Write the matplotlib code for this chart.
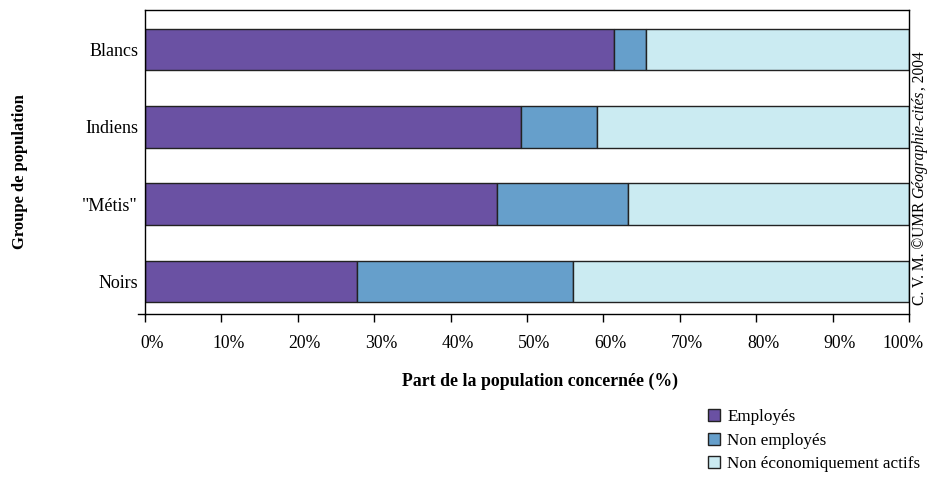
import matplotlib
matplotlib.use("Agg")
import matplotlib.pyplot as plt
import matplotlib.transforms as mtransforms
import numpy as np

# données (en %)
groupes = ["Blancs", "Indiens", "\"Métis\"", "Noirs"]
employes = [61.4, 49.2, 46.1, 27.8]
non_employes = [4.2, 10.0, 17.1, 28.2]
non_actifs = [34.4, 40.8, 36.8, 44.0]
series = ["Employés", "Non employés", "Non économiquement actifs"]
couleurs = ["#6a51a3", "#669fcb", "#cbebf2"]
ticks_x = [0, 10, 20, 30, 40, 50, 60, 70, 80, 90, 100]

plt.rcParams['font.family'] = ['Liberation Serif', 'DejaVu Serif']

fig = plt.figure(figsize=(9.27, 4.78), dpi=100)
ax = fig.add_axes([145/927, 1 - 314/478, 764/927, 304/478])

y = np.arange(len(groupes))
gauche = np.zeros(len(groupes))
for vals, nom, c in zip([employes, non_employes, non_actifs], series, couleurs):
    ax.barh(y, vals, left=gauche, height=0.54, color=c, edgecolor="#222222",
            linewidth=1, label=nom)
    gauche = gauche + np.array(vals)

ax.set_xlim(0, 100)
ax.set_ylim(3.42, -0.51)
ax.set_yticks(y)
ax.set_yticklabels(groupes, fontsize=13)
ax.tick_params(axis='y', length=0, pad=5)
ax.set_xticks(ticks_x)
ax.set_xticklabels([f"{t}%" for t in ticks_x], fontsize=12.7)
ax.tick_params(axis='x', length=6, width=1, direction='out', pad=9)

# petit tick en bas de l'axe y
ax.plot([-0.9, 0], [3.42, 3.42], color="black", lw=1, clip_on=False)

# décalage des étiquettes x comme sur l'original
for i, lab in enumerate(ax.get_xticklabels()):
    dx = -6 if i == len(ticks_x) - 1 else 7
    lab.set_transform(lab.get_transform() +
                      mtransforms.ScaledTranslation(dx/100, 0, fig.dpi_scale_trans))

for s in ax.spines.values():
    s.set_linewidth(1)
    s.set_color("black")

fig.text(20/927, 1 - 172/478, "Groupe de population", rotation=90, fontsize=12,
         fontweight='bold', ha='center', va='center')
fig.text(540/927, 1 - 381/478, "Part de la population concernée (%)", fontsize=12.8,
         fontweight='bold', ha='center', va='center')

# mention de source le long du bord droit
renderer = fig.canvas.get_renderer()
y0 = 305
for morceau, st in [("C. V. M. ©UMR ", 'normal'), ("Géographie-cités", 'italic'),
                    (", 2004", 'normal')]:
    t = fig.text(923.5/927, 1 - y0/478, morceau, rotation=90, rotation_mode='anchor',
                 ha='left', va='baseline', fontsize=11.2, style=st)
    bb = t.get_window_extent(renderer)
    y0 -= bb.height

handles, labels = ax.get_legend_handles_labels()
fig.legend(handles, labels, loc='upper left', bbox_to_anchor=(701/927, 1 - 402/478),
           frameon=False, fontsize=12.3, handlelength=0.7, handleheight=0.7,
           handletextpad=0.45, labelspacing=0.45, borderaxespad=0)

fig.savefig("out.png", dpi=100)
